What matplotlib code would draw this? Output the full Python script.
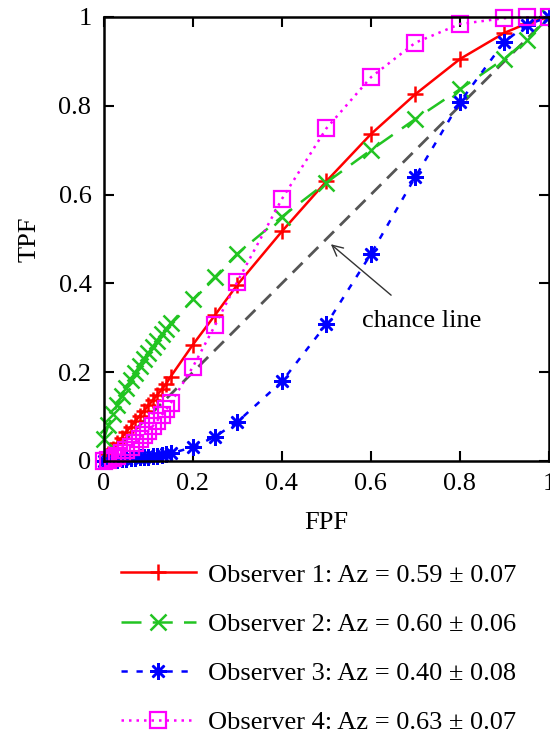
import numpy as np
import matplotlib.pyplot as plt

plt.rcParams['font.family'] = ['Liberation Serif', 'DejaVu Serif']

# false positive fraction (shared sampling of the ROC points)
fpf = [0.00, 0.01, 0.02, 0.03, 0.04, 0.05, 0.06, 0.07, 0.08, 0.09, 0.10, 0.11,
       0.12, 0.13, 0.14, 0.15, 0.20, 0.25, 0.30, 0.40, 0.50, 0.60, 0.70, 0.80,
       0.90, 0.95, 1.00]

tpf_obs1 = [0.000, 0.015, 0.028, 0.040, 0.052, 0.065, 0.077, 0.089, 0.101, 0.113,
            0.125, 0.137, 0.149, 0.161, 0.174, 0.190, 0.262, 0.329, 0.397, 0.517,
            0.630, 0.736, 0.826, 0.905, 0.964, 0.985, 1.000]
tpf_obs2 = [0.050, 0.080, 0.105, 0.127, 0.147, 0.165, 0.182, 0.198, 0.214, 0.229,
            0.243, 0.257, 0.271, 0.285, 0.298, 0.310, 0.364, 0.415, 0.467, 0.550,
            0.627, 0.700, 0.770, 0.837, 0.906, 0.947, 1.000]
tpf_obs3 = [0.000, 0.001, 0.002, 0.003, 0.004, 0.005, 0.006, 0.007, 0.008, 0.009,
            0.010, 0.011, 0.012, 0.014, 0.015, 0.017, 0.031, 0.055, 0.088, 0.179,
            0.308, 0.466, 0.640, 0.808, 0.944, 0.982, 1.000]
tpf_obs4 = [0.000, 0.003, 0.007, 0.012, 0.018, 0.025, 0.032, 0.040, 0.049, 0.058,
            0.068, 0.079, 0.091, 0.103, 0.116, 0.130, 0.212, 0.306, 0.404, 0.590,
            0.749, 0.864, 0.942, 0.984, 0.997, 0.999, 1.000]

labels = ['Observer 1: Az = 0.59 ± 0.07',
          'Observer 2: Az = 0.60 ± 0.06',
          'Observer 3: Az = 0.40 ± 0.08',
          'Observer 4: Az = 0.63 ± 0.07']
ticks = [0, 0.2, 0.4, 0.6, 0.8, 1]
tick_labels = ['0', '0.2', '0.4', '0.6', '0.8', '1']

fig = plt.figure(figsize=(5.5, 7.34), dpi=100)
ax = fig.add_axes([0.189, 0.372, 0.809, 0.605])

ax.plot([0, 1], [0, 1], color='#555555', lw=2, dashes=(5, 3))

h1, = ax.plot(fpf, tpf_obs1, color='red', lw=1.8, marker='+', ms=12, mew=1.8,
              clip_on=False)
h2, = ax.plot(fpf, tpf_obs2, color='#22c422', lw=1.8, marker='x', ms=11, mew=1.8,
              dashes=(8, 4.5), clip_on=False)
h3, = ax.plot(fpf, tpf_obs3, color='blue', lw=1.8, marker=(8, 2, 0), ms=12,
              mew=1.8, dashes=(2.5, 3.5), clip_on=False)
h4, = ax.plot(fpf, tpf_obs4, color='magenta', lw=1.8, marker='s', ms=11,
              mew=1.6, mfc='none', dashes=(1, 2), clip_on=False)

ax.annotate('chance line', xy=(0.51, 0.488), xytext=(0.713, 0.316),
            fontsize=19, ha='center', va='center',
            arrowprops=dict(arrowstyle='->', color='#333333', lw=1,
                            shrinkA=13, shrinkB=0))

ax.set_xlim(0, 1)
ax.set_ylim(0, 1)
ax.set_xticks(ticks)
ax.set_yticks(ticks)
ax.set_xticklabels(tick_labels)
ax.set_yticklabels(tick_labels)
ax.tick_params(direction='in', length=7, width=1.5, labelsize=19,
               top=True, right=True, pad=9)
for s in ax.spines.values():
    s.set_linewidth(1.8)
ax.set_xlabel('FPF', fontsize=19, labelpad=12)
ax.set_ylabel('TPF', fontsize=19, labelpad=13)

fig.legend([h1, h2, h3, h4], labels, loc='upper left',
           bbox_to_anchor=(0.2, 0.247), frameon=False, fontsize=19,
           handlelength=2.85, handletextpad=0.45, labelspacing=0.97,
           borderaxespad=0)

fig.savefig('out.png', dpi=100)
